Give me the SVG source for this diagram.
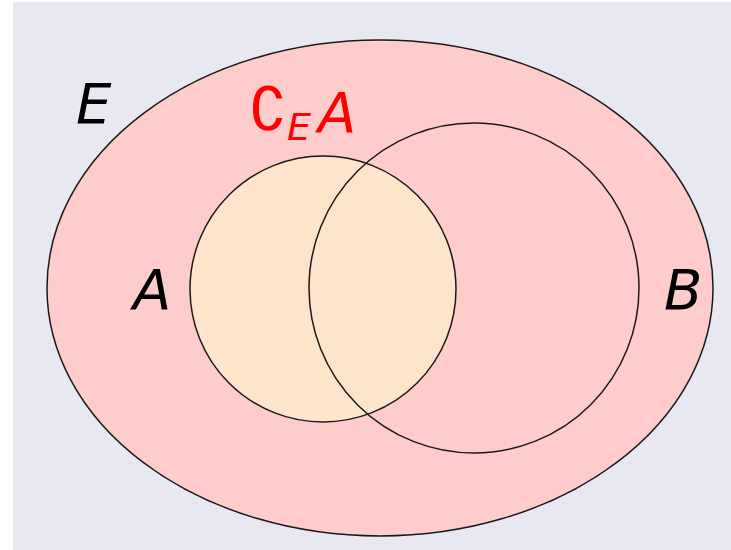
<svg xmlns="http://www.w3.org/2000/svg" width="731" height="550" viewBox="0 0 731 550">
<style>
.lbl{font-family:"DejaVu Sans",sans-serif;font-style:italic;font-size:56px;fill:#000}
.edge{stroke:#1a1a1a;stroke-width:1.5}
.red{fill:#ff0000;font-family:"DejaVu Sans",sans-serif}
</style>
<rect x="0" y="0" width="731" height="550" fill="#ffffff"/>
<rect x="13" y="2" width="718" height="548" fill="#e8e8f2"/>
<g id="E">
<ellipse cx="380" cy="288" rx="333" ry="248" fill="#ffcccc" class="edge"/>
<text x="76" y="123" class="lbl">E</text>
</g>
<g id="A">
<circle cx="323" cy="289" r="133" fill="#ffe4cc" class="edge"/>
<text x="133" y="309" class="lbl">A</text>
</g>
<g id="B">
<circle cx="474" cy="288" r="165" fill="none" class="edge"/>
<text x="664" y="309" class="lbl">B</text>
</g>
<g id="complement">
<text class="red"><tspan x="249" y="130" font-size="60">∁</tspan><tspan x="287" y="140" font-size="38" font-style="italic">E</tspan><tspan x="318" y="132" font-size="56" font-style="italic">A</tspan></text>
</g>
<g id="connectors"></g>
</svg>
